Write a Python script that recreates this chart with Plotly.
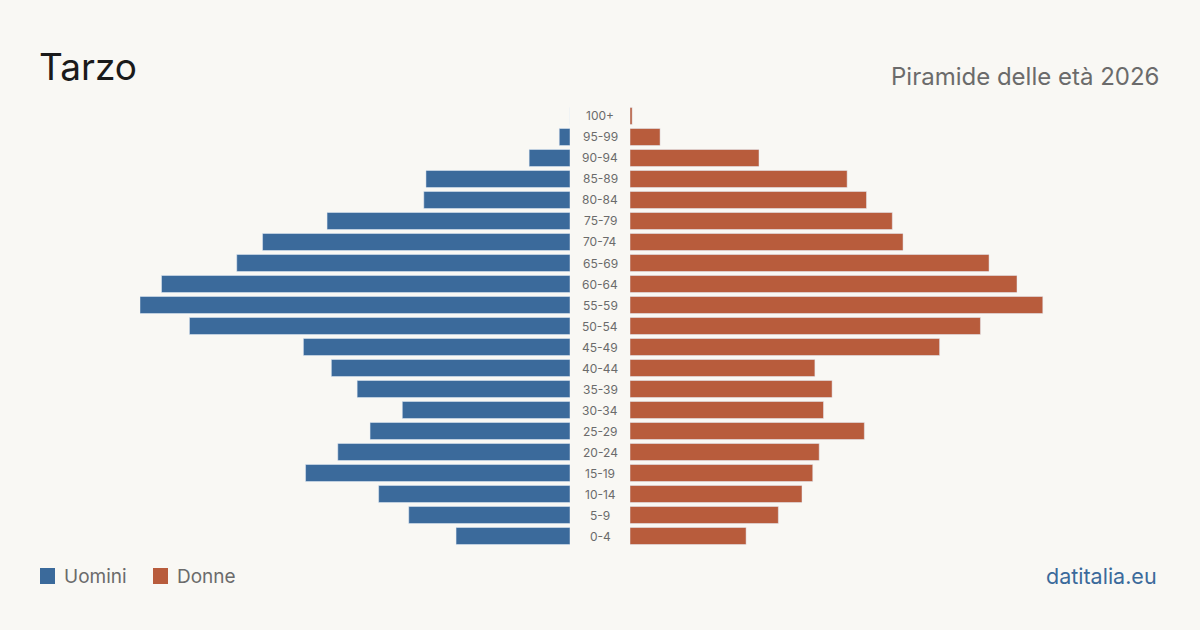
import plotly.graph_objects as go

ages = ["0-4", "5-9", "10-14", "15-19", "20-24", "25-29", "30-34", "35-39", "40-44",
        "45-49", "50-54", "55-59", "60-64", "65-69", "70-74", "75-79", "80-84",
        "85-89", "90-94", "95-99", "100+"]
uomini = [53, 75, 89, 123, 108, 93, 78, 99, 111, 124, 177, 200, 190, 155, 143, 113, 68, 67, 19, 5, 0]
donne = [54, 69, 80, 85, 88, 109, 90, 94, 86, 144, 163, 192, 180, 167, 127, 122, 110, 101, 60, 14, 1]

BG = "#f9f8f4"
BLUE = "#3b6a9b"
RED = "#b85c3c"
FONT = "Inter, 'Open Sans', sans-serif"

fig = go.Figure()
fig.add_trace(go.Bar(y=ages, x=uomini, orientation="h", marker_color=BLUE,
                     xaxis="x", yaxis="y", name="Uomini", showlegend=False,
                     hoverinfo="skip"))
fig.add_trace(go.Bar(y=ages, x=donne, orientation="h", marker_color=RED,
                     xaxis="x2", yaxis="y", name="Donne", showlegend=False,
                     hoverinfo="skip"))

W, H = 1200, 630
annotations = []
for a in ages:
    annotations.append(dict(x=0.5, y=a, xref="paper", yref="y", text=a, showarrow=False,
                            font=dict(family=FONT, size=12, color="#6b6b6b"),
                            xanchor="center", yanchor="middle"))

annotations += [
    dict(x=37 / W, y=1 - 67 / H, xref="paper", yref="paper", text="Tarzo", showarrow=False,
         xanchor="left", yanchor="middle", font=dict(family=FONT, size=37, color="#1a1a1a")),
    dict(x=1161 / W, y=1 - 76 / H, xref="paper", yref="paper", text="Piramide delle età 2026",
         showarrow=False, xanchor="right", yanchor="middle",
         font=dict(family=FONT, size=24, color="#6b6b6b")),
    dict(x=62 / W, y=1 - 576 / H, xref="paper", yref="paper", text="Uomini", showarrow=False,
         xanchor="left", yanchor="middle", font=dict(family=FONT, size=19, color="#6b6b6b")),
    dict(x=175 / W, y=1 - 576 / H, xref="paper", yref="paper", text="Donne", showarrow=False,
         xanchor="left", yanchor="middle", font=dict(family=FONT, size=19, color="#6b6b6b")),
    dict(x=1159 / W, y=1 - 576 / H, xref="paper", yref="paper", text="datitalia.eu", showarrow=False,
         xanchor="right", yanchor="middle", font=dict(family=FONT, size=21.5, color=BLUE)),
]

shapes = [
    dict(type="rect", xref="paper", yref="paper", x0=40 / W, x1=55 / W,
         y0=1 - 584 / H, y1=1 - 568 / H, fillcolor=BLUE, line_width=0),
    dict(type="rect", xref="paper", yref="paper", x0=153 / W, x1=168 / W,
         y0=1 - 584 / H, y1=1 - 568 / H, fillcolor=RED, line_width=0),
]

fig.update_layout(
    width=W, height=H, margin=dict(l=0, r=0, t=0, b=0),
    paper_bgcolor=BG, plot_bgcolor=BG,
    bargap=0.19,
    xaxis=dict(domain=[140 / W, 570 / W], range=[200, 0], visible=False, fixedrange=True),
    xaxis2=dict(domain=[630 / W, 1060 / W], range=[0, 200], visible=False, anchor="y",
                fixedrange=True),
    yaxis=dict(domain=[1 - 546.5 / H, 1 - 105.5 / H], categoryorder="array",
               categoryarray=ages, range=[-0.5, 20.5], visible=False, fixedrange=True),
    annotations=annotations, shapes=shapes,
)

fig.write_html("out.html", config={"displayModeBar": False})
